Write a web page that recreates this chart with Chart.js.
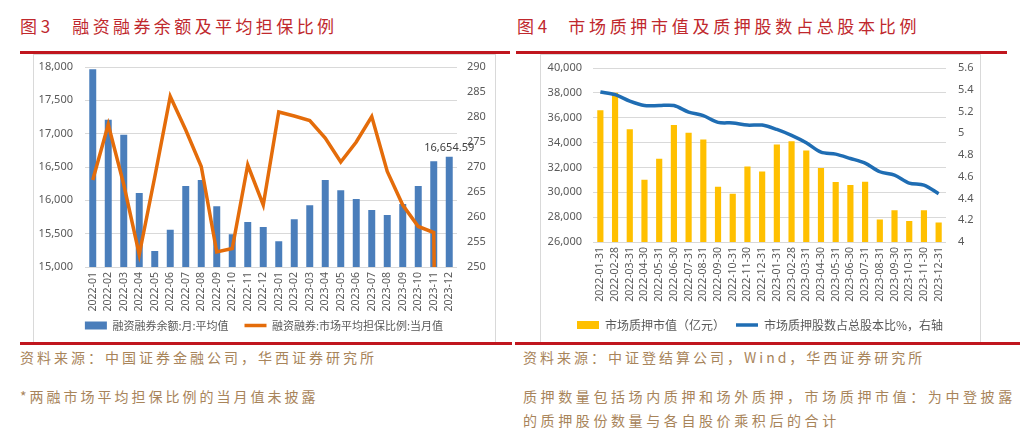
<!DOCTYPE html>
<html>
<head>
<meta charset="utf-8">
<script src="https://cdn.jsdelivr.net/npm/chart.js@4.4.0/dist/chart.umd.min.js"></script>
<style>
  body { margin: 0; background: #fff; width: 1032px; height: 446px; position: relative; overflow: hidden; font-family: "Noto Sans CJK SC", sans-serif; }
  .abs { position: absolute; white-space: nowrap; }
  .title { color: #c0282d; font-size: 17px; line-height: 20px; }
  .rule { position: absolute; height: 3px; background: #c0161e; }
  .box { position: absolute; border: 1px solid #d9d9d9; box-sizing: border-box; }
  .note { color: #a8845a; font-size: 14px; line-height: 18px; letter-spacing: 3px; }
  canvas { position: absolute; }
</style>
</head>
<body>
<div class="abs title" style="left:20px;top:16px;"><span>图 3</span><span style="margin-left:22px;letter-spacing:3.4px;">融资融券余额及平均担保比例</span></div>
<div class="abs title" style="left:517px;top:16px;"><span>图 4</span><span style="margin-left:21px;letter-spacing:3.7px;">市场质押市值及质押股数占总股本比例</span></div>
<div class="rule" style="left:20px;top:51px;width:490px;"></div>
<div class="rule" style="left:516px;top:51px;width:491px;"></div>

<div class="box" style="left:33px;top:54px;width:463px;height:290px;"></div>
<div class="box" style="left:540px;top:54px;width:441px;height:290px;"></div>
<canvas id="c1" width="462" height="286" style="left:33px;top:55px;"></canvas>
<canvas id="c2" width="440" height="286" style="left:540px;top:55px;"></canvas>

<div class="rule" style="left:20px;top:342px;width:492px;"></div>
<div class="rule" style="left:515px;top:342px;width:505px;"></div>

<div class="abs note" style="left:20px;top:348px;">资料来源：中国证券金融公司，华西证券研究所</div>
<div class="abs note" style="left:20px;top:387px;">*两融市场平均担保比例的当月值未披露</div>
<div class="abs note" style="left:523px;top:348px;">资料来源：中证登结算公司，Wind，华西证券研究所</div>
<div class="abs note" style="left:523px;top:387px;letter-spacing:3.6px;">质押数量包括场内质押和场外质押，市场质押市值：为中登披露</div>
<div class="abs note" style="left:523px;top:411px;letter-spacing:3.6px;">的质押股份数量与各自股价乘积后的合计</div>

<script>
// 图3 融资融券
const months = ['2022-01','2022-02','2022-03','2022-04','2022-05','2022-06','2022-07','2022-08','2022-09','2022-10','2022-11','2022-12',
  '2023-01','2023-02','2023-03','2023-04','2023-05','2023-06','2023-07','2023-08','2023-09','2023-10','2023-11','2023-12'];
const marginBalance = [17965, 17210, 16985, 16110, 15240, 15560, 16215, 16305, 15910, 15490, 15675, 15600,
  15385, 15715, 15925, 16305, 16150, 16020, 15855, 15780, 15945, 16215, 16585, 16654.59];
// 2023-12 当月值未披露，按 0 处理（图中竖直跌出坐标区）
const collateralRatio = [267.4, 278.5, 266.5, 252.5, 268, 284.1, 277.4, 270.1, 253.0, 253.7, 270.4, 262.4,
  281.0, 280.2, 279.3, 275.8, 271.0, 275.0, 280.1, 269.1, 262.4, 258.1, 256.9, 0];

// 图4 股票质押
const dates = ['2022-01-31','2022-02-28','2022-03-31','2022-04-30','2022-05-31','2022-06-30','2022-07-31','2022-08-31','2022-09-30','2022-10-31','2022-11-30','2022-12-31',
  '2023-01-31','2023-02-28','2023-03-31','2023-04-30','2023-05-31','2023-06-30','2023-07-31','2023-08-31','2023-09-30','2023-10-31','2023-11-30','2023-12-31'];
const pledgeValue = [36600, 38000, 35070, 31000, 32700, 35420, 34800, 34250, 30450, 29880, 32080, 31680,
  33850, 34110, 33360, 31950, 30820, 30580, 30850, 27820, 28550, 27690, 28550, 27560];
const pledgeRatio = [5.38, 5.355, 5.295, 5.255, 5.255, 5.255, 5.195, 5.162, 5.10, 5.095, 5.075, 5.075,
  5.035, 4.98, 4.912, 4.826, 4.808, 4.768, 4.725, 4.646, 4.615, 4.542, 4.523, 4.444];

Chart.defaults.font.family = "'Noto Sans', 'Noto Sans CJK SC', sans-serif";
Chart.defaults.color = '#595959';
Chart.defaults.animation = false;

const gridColor = '#d9d9d9';

// legend in dataset order, with a wider gap after the first item
const legendItems = gap => chart =>
  Chart.defaults.plugins.legend.labels.generateLabels(chart)
    .sort((a, b) => a.datasetIndex - b.datasetIndex)
    .map((l, i) => i === 0 ? Object.assign(l, { text: l.text + gap }) : l);

// invisible tick marks give the label gap without padding the plot top
const leftGrid = len => ({ color: gridColor, drawTicks: true, tickLength: len, tickColor: 'rgba(0,0,0,0)' });
const rightGrid = len => ({ display: true, drawOnChartArea: false, drawTicks: true, tickLength: len, color: 'rgba(0,0,0,0)' });

// 最后一根柱子的数据标签
const lastBarLabel = {
  id: 'lastBarLabel',
  afterDatasetsDraw(chart) {
    const meta = chart.getDatasetMeta(0);
    const bar = meta.data[meta.data.length - 1];
    const ctx = chart.ctx;
    ctx.save();
    ctx.font = "11px 'Noto Sans', sans-serif";
    ctx.fillStyle = '#404040';
    ctx.textAlign = 'center';
    ctx.textBaseline = 'bottom';
    ctx.fillText(marginBalance[marginBalance.length - 1].toLocaleString('en-US', {minimumFractionDigits: 2}), bar.x, bar.y - 3);
    ctx.restore();
  }
};

new Chart(document.getElementById('c1').getContext('2d'), {
  data: {
    labels: months,
    datasets: [
      {
        type: 'bar', label: '融资融券余额:月:平均值', data: marginBalance, yAxisID: 'y',
        backgroundColor: '#4a7ebb', barPercentage: 0.45, categoryPercentage: 1,
        pointStyle: 'rect', order: 2
      },
      {
        type: 'line', label: '融资融券:市场平均担保比例:当月值', data: collateralRatio, yAxisID: 'y1',
        borderColor: '#e46c0a', backgroundColor: '#e46c0a', borderWidth: 3.5, pointRadius: 0,
        tension: 0, pointStyle: 'line', order: 1
      }
    ]
  },
  options: {
    responsive: false,
    layout: { padding: { top: 12, left: 0, right: 0, bottom: 0 } },
    plugins: {
      legend: {
        position: 'bottom',
        labels: {
          usePointStyle: true, pointStyleWidth: 22, boxHeight: 8, padding: 5, color: '#595959',
          font: { size: 11, family: "'Noto Sans CJK SC'" },
          generateLabels: legendItems('\u3000')
        }
      },
      tooltip: { enabled: false }
    },
    scales: {
      x: {
        grid: { display: false, drawTicks: false },
        border: { display: false },
        ticks: { minRotation: 90, maxRotation: 90, autoSkip: false, padding: 5, font: { size: 10.5 } },
        afterFit: s => { s.height = 48; }
      },
      y: {
        position: 'left', min: 15000, max: 18000,
        ticks: { stepSize: 500, padding: 0, font: { size: 11 } },
        grid: leftGrid(12),
        border: { display: false },
        afterFit: s => { s.width = 52; }
      },
      y1: {
        position: 'right', min: 250, max: 290,
        ticks: { stepSize: 5, padding: 0, font: { size: 11 } },
        grid: rightGrid(10),
        border: { display: false },
        afterFit: s => { s.width = 38; }
      }
    }
  },
  plugins: [lastBarLabel]
});

new Chart(document.getElementById('c2').getContext('2d'), {
  data: {
    labels: dates,
    datasets: [
      {
        type: 'bar', label: '市场质押市值（亿元）', data: pledgeValue, yAxisID: 'y',
        backgroundColor: '#ffc000', barPercentage: 0.42, categoryPercentage: 1,
        pointStyle: 'rect', order: 2
      },
      {
        type: 'line', label: '市场质押股数占总股本比%，右轴', data: pledgeRatio, yAxisID: 'y1',
        borderColor: '#1f6db3', backgroundColor: '#1f6db3', borderWidth: 3.5, pointRadius: 0,
        tension: 0.3, pointStyle: 'line', order: 1
      }
    ]
  },
  options: {
    responsive: false,
    layout: { padding: { top: 13, left: 0, right: 0, bottom: 0 } },
    plugins: {
      legend: {
        position: 'bottom',
        labels: {
          usePointStyle: true, pointStyleWidth: 22, boxHeight: 8, padding: 5, color: '#595959',
          font: { size: 12, family: "'Noto Sans CJK SC'" },
          generateLabels: legendItems('\u3000')
        }
      },
      tooltip: { enabled: false }
    },
    scales: {
      x: {
        grid: { display: false, drawTicks: false },
        border: { display: false },
        ticks: { minRotation: 90, maxRotation: 90, autoSkip: false, padding: 5, font: { size: 10.5 } },
        afterFit: s => { s.height = 72; }
      },
      y: {
        position: 'left', min: 26000, max: 40000,
        ticks: { stepSize: 2000, padding: 0, font: { size: 11 } },
        grid: leftGrid(11),
        border: { display: false },
        afterFit: s => { s.width = 53; }
      },
      y1: {
        position: 'right', min: 4, max: 5.6,
        ticks: { stepSize: 0.2, padding: 0, font: { size: 11 }, callback: v => String(Number(v.toFixed(1))) },
        grid: rightGrid(12),
        border: { display: false },
        afterFit: s => { s.width = 34; }
      }
    }
  }
});
</script>
</body>
</html>
